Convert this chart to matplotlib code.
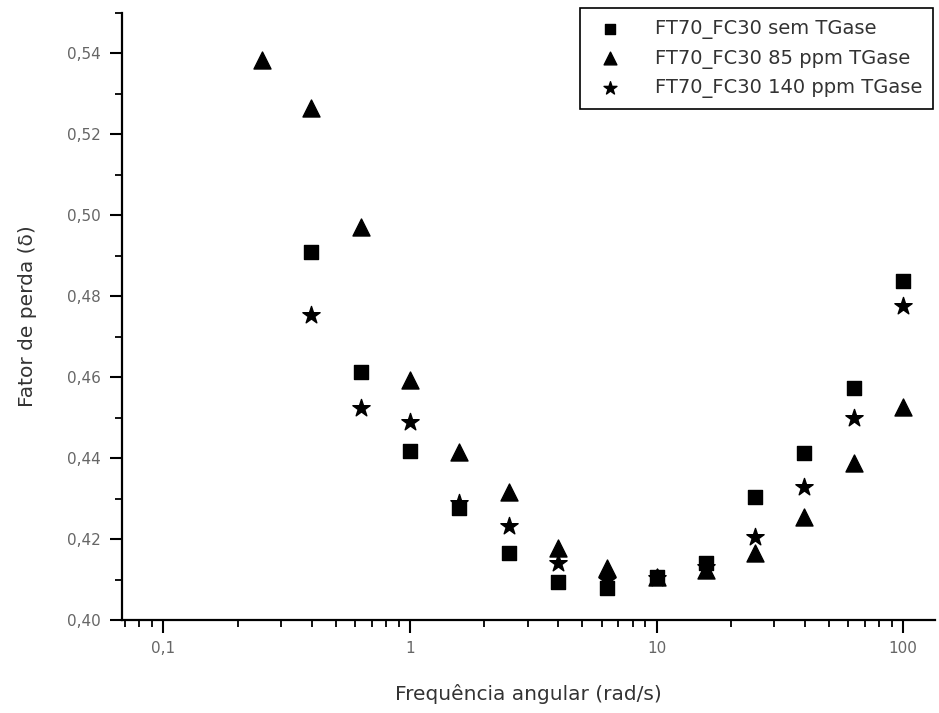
import matplotlib.pyplot as plt
from matplotlib.ticker import FuncFormatter, MultipleLocator, LogLocator

# angular frequency (rad/s)
freq = [0.251, 0.398, 0.631, 1.0, 1.585, 2.512, 3.981, 6.310, 10.0, 15.85, 25.12, 39.81, 63.10, 100.0]

# loss factor, one list per sample (None = no point)
semTG = [None, 0.4909, 0.4612, 0.4418, 0.4277, 0.4165, 0.4094, 0.4079, 0.4106, 0.4140, 0.4304, 0.4412, 0.4573, 0.4837]
tg85 = [0.5383, 0.5264, 0.4970, 0.4593, 0.4415, 0.4316, 0.4178, 0.4128, 0.4106, 0.4123, 0.4165, 0.4255, 0.4388, 0.4526]
tg140 = [None, 0.4753, 0.4523, 0.4489, 0.4289, 0.4232, 0.4141, 0.4099, 0.4104, 0.4130, 0.4205, 0.4329, 0.4499, 0.4775]

labels = ["FT70_FC30 sem TGase", "FT70_FC30 85 ppm TGase", "FT70_FC30 140 ppm TGase"]


def pts(y):
    xs = [f for f, v in zip(freq, y) if v is not None]
    ys = [v for v in y if v is not None]
    return xs, ys


fig = plt.figure(figsize=(9.39, 7.13), dpi=100)
ax = fig.add_axes([0.130, 0.1304, 0.866, 0.8514])

x, y = pts(semTG)
ax.scatter(x, y, marker='s', s=100, color='black', label=labels[0], zorder=3)
x, y = pts(tg85)
ax.scatter(x, y, marker='^', s=150, color='black', label=labels[1], zorder=3)
x, y = pts(tg140)
ax.scatter(x, y, marker='*', s=170, color='black', label=labels[2], zorder=3)

ax.set_xscale('log')
ax.set_xlim(0.068, 135)
ax.set_ylim(0.40, 0.55)

ax.spines['top'].set_visible(False)
ax.spines['right'].set_visible(False)
ax.spines['left'].set_linewidth(1.6)
ax.spines['bottom'].set_linewidth(1.6)

ax.yaxis.set_major_locator(MultipleLocator(0.02))
ax.yaxis.set_minor_locator(MultipleLocator(0.01))
ax.yaxis.set_major_formatter(FuncFormatter(lambda v, p: f"{v:.2f}".replace('.', ',')))
ax.xaxis.set_major_locator(LogLocator(base=10, numticks=10))
ax.xaxis.set_minor_locator(LogLocator(base=10, subs=range(2, 10), numticks=20))
ax.xaxis.set_major_formatter(FuncFormatter(lambda v, p: f"{v:g}".replace('.', ',')))

ax.tick_params(which='major', direction='out', length=9, width=1.5, labelsize=11, labelcolor='#666666', pad=6)
ax.tick_params(which='minor', direction='out', length=5, width=1.3)

ax.set_xlabel("Frequência angular (rad/s)", fontsize=14.5, color='#333333', labelpad=20)
ax.set_ylabel("Fator de perda (δ)", fontsize=14.5, color='#333333', labelpad=22)

leg = ax.legend(loc='upper right', bbox_to_anchor=(0.9975, 1.008), borderaxespad=0,
                fontsize=14, fancybox=False, edgecolor='black', framealpha=1,
                markerscale=0.75, handlelength=2.0, handletextpad=1.3,
                labelspacing=0.5, borderpad=0.55)
leg.get_frame().set_linewidth(1.2)
for t in leg.get_texts():
    t.set_color('#333333')

fig.savefig("out.png", dpi=100)
